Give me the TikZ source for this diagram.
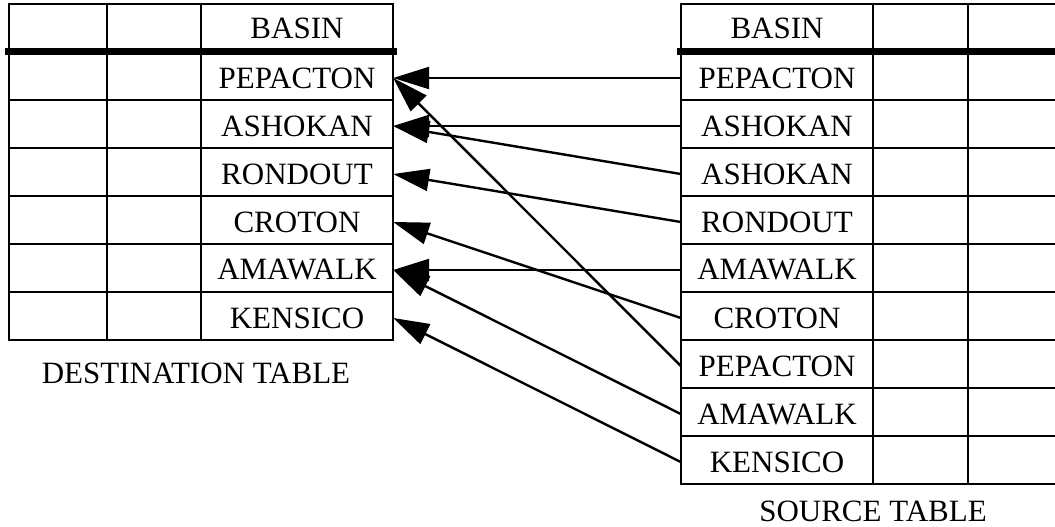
\documentclass[tikz,border=0pt]{standalone}
\usepackage{fontspec}
\setmainfont{Liberation Serif}
\usetikzlibrary{arrows.meta}

\begin{document}
\begin{tikzpicture}[
  x=1pt, y=-1pt,
  grid/.style     = {line width=2pt},
  sepline/.style  = {line width=7pt},
  cellnode/.style = {minimum width=192pt, minimum height=48pt, inner sep=0pt,
                     font=\fontsize{31}{31}\selectfont},
  capnode/.style  = {inner sep=0pt, font=\fontsize{31}{31}\selectfont},
  arr/.style      = {-{Triangle[length=36pt, width=22pt]}, line width=2.4pt},
]

\useasboundingbox (0,0) rectangle (1055,527);

%% Destination table (left)
\draw[grid] (9,4) rectangle (393,340);
\foreach \x in {107, 201} \draw[grid] (\x,4) -- (\x,340);
\foreach \k in {1,...,5} \draw[grid] (9,{52+48*\k}) -- (393,{52+48*\k});
\draw[sepline] (5,52) -- (397,52);

%% Source table (right, runs off the page)
\draw[grid] (1055,4) -- (681,4) -- (681,484) -- (1055,484);
\foreach \x in {873, 968} \draw[grid] (\x,4) -- (\x,484);
\foreach \k in {1,...,8} \draw[grid] (681,{52+48*\k}) -- (1055,{52+48*\k});
\draw[sepline] (677,52) -- (1055,52);

%% Basin cells
\node[cellnode] (dhead) at (297,28) {BASIN};
\foreach \name [count=\i] in {PEPACTON, ASHOKAN, RONDOUT, CROTON, AMAWALK, KENSICO}
  \node[cellnode] (d\i) at (297,{28+48*\i+2}) {\name};

\node[cellnode] (shead) at (777,28) {BASIN};
\foreach \name [count=\i] in {PEPACTON, ASHOKAN, ASHOKAN, RONDOUT, AMAWALK,
                              CROTON, PEPACTON, AMAWALK, KENSICO}
  \node[cellnode] (s\i) at (777,{28+48*\i+2}) {\name};

%% Captions
\node[capnode] (dcap) at (196,373) {DESTINATION TABLE};
\node[capnode] (scap) at (873,511) {SOURCE TABLE};

%% Arrows from source rows to destination rows
\foreach \s/\d in {1/1, 2/2, 3/2, 4/3, 5/5, 6/4, 7/1, 8/5, 9/6}
  \draw[arr] (s\s.west) -- (d\d.east);

\end{tikzpicture}
\end{document}
